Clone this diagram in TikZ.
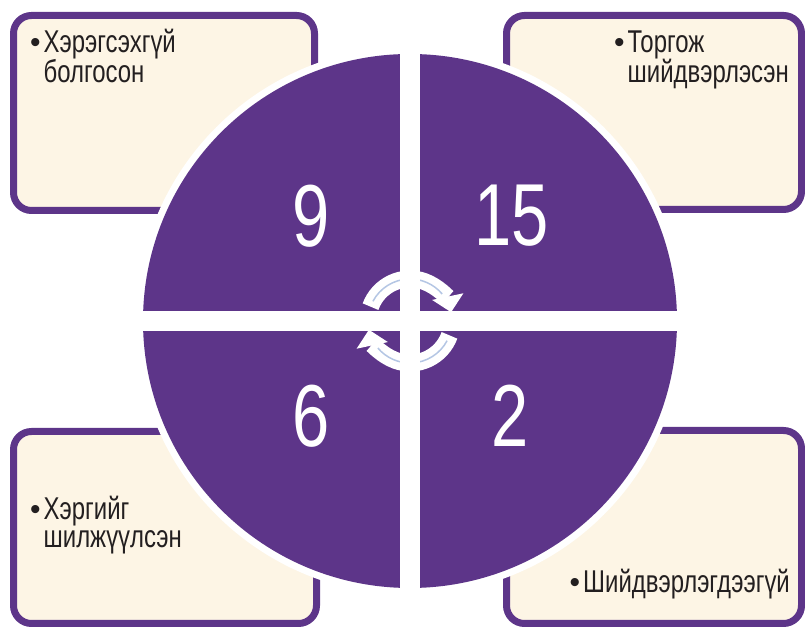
\documentclass[tikz,border=0pt]{standalone}
\usepackage{fontspec}
\setmainfont{Liberation Sans}[FakeStretch=0.76]
\newfontfamily\dotfont{Liberation Sans}
\usepackage{tikz}
\usetikzlibrary{arrows.meta,positioning,calc}
\definecolor{vpurple}{RGB}{93,53,137}
\definecolor{vcream}{RGB}{253,245,229}
\definecolor{ink}{RGB}{35,31,32}
\definecolor{vblue}{RGB}{180,198,228}
\newcommand{\itemfont}{\fontsize{31.5}{28}\selectfont}
\newcommand{\countfont}{\fontsize{88}{88}\selectfont}
\newcommand{\itemdot}{{\dotfont\fontsize{30}{28}\selectfont\textbullet}\hspace{3pt}}

\begin{document}
\begin{tikzpicture}[
    card/.style={draw=vpurple, line width=7pt, fill=vcream, rounded corners=18pt},
    item/.style={font=\itemfont, text=ink, align=left, anchor=base west, inner sep=0pt},
    tally/.style={font=\countfont, text=white, inner sep=0pt},
    turn/.style={white, line width=17pt, -{Triangle[width=31pt,length=16pt]}},
    turnline/.style={vblue, line width=1.5pt},
    x=1pt, y=1pt
]
\useasboundingbox (0,0) rectangle (805,628);

% --- Cards ---
\node[card, minimum width=301pt, minimum height=195pt] (cardTL) at (164,515) {};
\node[card, minimum width=295pt, minimum height=194pt] (cardTR) at (654,515.5) {};
\node[card, minimum width=303pt, minimum height=192pt] (cardBL) at (165,100.5) {};
\node[card, minimum width=295pt, minimum height=193pt] (cardBR) at (654,101) {};

% --- Circle ---
\coordinate (hub) at (410,307);
\fill[white] (hub) circle (274pt);
\fill[vpurple] (hub) circle (267pt);

% --- Cycle arrows ---
\draw[turn] ([shift={(160:42pt)}]hub) arc[start angle=160, end angle=12, radius=42pt];
\draw[turn] ([shift={(-20:42pt)}]hub) arc[start angle=-20, end angle=-168, radius=42pt];
\draw[turnline] ([shift={(152:42pt)}]hub) arc[start angle=152, end angle=40, radius=42pt];
\draw[turnline] ([shift={(-28:42pt)}]hub) arc[start angle=-28, end angle=-140, radius=42pt];

% --- Gaps ---
\fill[white] (400,33) rectangle (420,581);
\fill[white] (136,297) rectangle (684,317);

% --- Numbers ---
\node[tally] (n9) at (311,412) {9};
\node[tally] (n15) at (512,412) {15};
\node[tally] (n6) at (311,212) {6};
\node[tally] (n2) at (510,212) {2};

% --- Labels (anchored on the last line) ---
\node[item] (lblTL) at (30,545) {\itemdot Хэрэгсэхгүй\\\phantom{\itemdot}болгосон};
\node[item] (lblTR) at (614,545) {\itemdot Торгож\\\phantom{\itemdot}шийдвэрлэсэн};
\node[item] (lblBL) at (30,80) {\itemdot Хэргийг\\\phantom{\itemdot}шилжүүлсэн};
\node[item] (lblBR) at (569.5,35) {\itemdot Шийдвэрлэгдээгүй};

\end{tikzpicture}
\end{document}
